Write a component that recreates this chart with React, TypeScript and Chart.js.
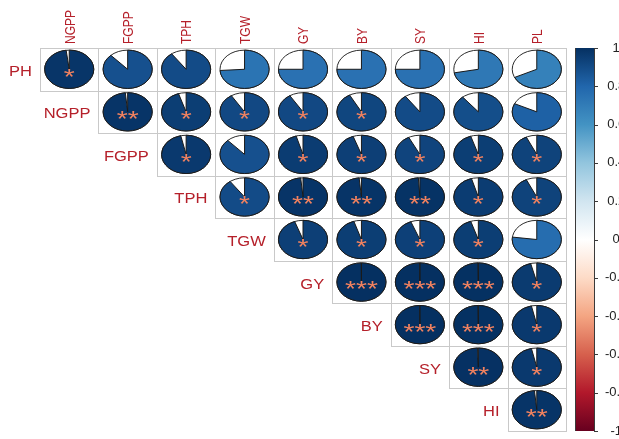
import React, { useEffect, useRef } from 'react';
import { Chart, registerables } from 'chart.js';
Chart.register(...registerables);

const rowLabels = ['PH', 'NGPP', 'FGPP', 'TPH', 'TGW', 'GY', 'BY', 'SY', 'HI'];
const colLabels = ['NGPP', 'FGPP', 'TPH', 'TGW', 'GY', 'BY', 'SY', 'HI', 'PL'];

// correlation of each row variable with columns (starting at the diagonal column)
const corrPH = [0.98, 0.88, 0.9, 0.74, 0.75, 0.75, 0.75, 0.72, 0.68];
const corrNGPP = [0.985, 0.95, 0.91, 0.91, 0.92, 0.9, 0.89, 0.82];
const corrFGPP = [0.965, 0.88, 0.955, 0.945, 0.925, 0.95, 0.93];
const corrTPH = [0.9, 0.985, 0.985, 0.99, 0.955, 0.93];
const corrTGW = [0.945, 0.95, 0.94, 0.95, 0.77];
const corrGY = [0.999, 0.999, 0.998, 0.96];
const corrBY = [0.999, 0.998, 0.965];
const corrSY = [0.995, 0.965];
const corrHI = [0.985];

// significance stars
const starsPH = [1, 0, 0, 0, 0, 0, 0, 0, 0];
const starsNGPP = [2, 1, 1, 1, 1, 0, 0, 0];
const starsFGPP = [1, 0, 1, 1, 1, 1, 1];
const starsTPH = [1, 2, 2, 2, 1, 1];
const starsTGW = [1, 1, 1, 1, 0];
const starsGY = [3, 3, 3, 1];
const starsBY = [3, 3, 1];
const starsSY = [2, 1];
const starsHI = [2];

const cbTicks = [1, 0.8, 0.6, 0.4, 0.2, 0, -0.2, -0.4, -0.6, -0.8, -1];
const cbTickLabels = ['1', '0.8', '0.6', '0.4', '0.2', '0', '-0.2', '-0.4', '-0.6', '-0.8', '-1'];

const palette = ['#67001F', '#B2182B', '#D6604D', '#F4A582', '#FDDBC7', '#FFFFFF', '#D1E5F0', '#92C5DE', '#4393C3', '#2166AC', '#053061'];

const corrRows = [corrPH, corrNGPP, corrFGPP, corrTPH, corrTGW, corrGY, corrBY, corrSY, corrHI];
const starRows = [starsPH, starsNGPP, starsFGPP, starsTPH, starsTGW, starsGY, starsBY, starsSY, starsHI];

const FONT = '"Liberation Sans", Arial, sans-serif';
const LABEL_COL = '#B5202A';

function hexToRgb(h: string) {
  return [parseInt(h.slice(1, 3), 16), parseInt(h.slice(3, 5), 16), parseInt(h.slice(5, 7), 16)];
}
function colorFor(r: number) {
  const t = Math.max(0, Math.min(1, (r + 1) / 2)) * (palette.length - 1);
  const i = Math.min(palette.length - 2, Math.floor(t));
  const f = t - i;
  const a = hexToRgb(palette[i]);
  const b = hexToRgb(palette[i + 1]);
  const c = a.map((v, k) => Math.round(v + (b[k] - v) * f));
  return `rgb(${c[0]},${c[1]},${c[2]})`;
}

type Pt = { x: number; y: number; r: number; s: number };
const points: Pt[] = [];
corrRows.forEach((row, i) => {
  row.forEach((r, k) => {
    points.push({ x: i + k + 0.5, y: i + 0.5, r, s: starRows[i][k] });
  });
});

const corrPlugin = {
  id: 'corrPie',
  afterDatasetsDraw(chart: any) {
    const ctx = chart.ctx as CanvasRenderingContext2D;
    const xs = chart.scales.x;
    const ys = chart.scales.y;
    const cb = chart.scales.cb;
    const cw = xs.getPixelForValue(1) - xs.getPixelForValue(0);
    const ch = ys.getPixelForValue(1) - ys.getPixelForValue(0);
    const meta = chart.getDatasetMeta(0);
    ctx.save();
    // cell borders
    ctx.strokeStyle = '#C9C9C9';
    ctx.lineWidth = 1;
    meta.data.forEach((el: any) => {
      const x0 = Math.round(el.x - cw / 2) + 0.5;
      const y0 = Math.round(el.y - ch / 2) + 0.5;
      const x1 = Math.round(el.x + cw / 2) + 0.5;
      const y1 = Math.round(el.y + ch / 2) + 0.5;
      ctx.strokeRect(x0, y0, x1 - x0, y1 - y0);
    });
    // pies
    const rx = cw * 0.42;
    const ry = ch * 0.45;
    meta.data.forEach((el: any, k: number) => {
      const p = points[k];
      const cx = el.x;
      const cy = el.y;
      ctx.beginPath();
      ctx.ellipse(cx, cy, rx, ry, 0, 0, Math.PI * 2);
      ctx.fillStyle = '#FFFFFF';
      ctx.fill();
      ctx.strokeStyle = '#2a2a2a';
      ctx.lineWidth = 1;
      ctx.stroke();
      const a0 = -Math.PI / 2;
      const a1 = a0 + Math.PI * 2 * Math.abs(p.r);
      ctx.beginPath();
      ctx.moveTo(cx, cy);
      if (p.r >= 0) ctx.ellipse(cx, cy, rx, ry, 0, a0, a1, false);
      else ctx.ellipse(cx, cy, rx, ry, 0, a0, a0 - (a1 - a0), true);
      ctx.closePath();
      ctx.fillStyle = colorFor(p.r);
      ctx.fill();
      ctx.strokeStyle = '#1a1a1a';
      ctx.stroke();
      if (p.s > 0) {
        const fs = 22.5;
        ctx.save();
        ctx.translate(cx, cy + 1.5);
        ctx.scale(1.25, 1);
        ctx.font = `${fs}px ${FONT}`;
        ctx.fillStyle = '#F2825F';
        ctx.textAlign = 'center';
        ctx.textBaseline = 'alphabetic';
        ctx.fillText('*'.repeat(p.s), 0, 0.575 * fs);
        ctx.restore();
      }
    });
    // row labels
    rowLabels.forEach((lab, i) => {
      const fs = 14;
      const xr = xs.getPixelForValue(i) - 8;
      const cy = ys.getPixelForValue(i + 0.5) + 1.5;
      ctx.save();
      ctx.translate(xr, cy);
      ctx.scale(1.18, 1);
      ctx.font = `${fs}px ${FONT}`;
      ctx.fillStyle = LABEL_COL;
      ctx.textAlign = 'right';
      ctx.textBaseline = 'alphabetic';
      ctx.fillText(lab, 0, 0.358 * fs);
      ctx.restore();
    });
    // column labels
    colLabels.forEach((lab, j) => {
      const fs = 12;
      const hs = 1.25;
      const cx = xs.getPixelForValue(j + 0.5);
      const yb = ys.getPixelForValue(0) - 4;
      ctx.save();
      ctx.translate(cx + (0.716 * fs * hs) / 2, yb);
      ctx.scale(hs, 1);
      ctx.rotate(-Math.PI / 2);
      ctx.font = `${fs}px ${FONT}`;
      ctx.fillStyle = LABEL_COL;
      ctx.textAlign = 'left';
      ctx.textBaseline = 'alphabetic';
      ctx.fillText(lab, 0, 0);
      ctx.restore();
    });
    // colour bar
    const bx = cb.left + 9;
    const bw = 19;
    const yTop = cb.getPixelForValue(1);
    const yBot = cb.getPixelForValue(-1);
    const g = ctx.createLinearGradient(0, yBot, 0, yTop);
    palette.forEach((c, i) => g.addColorStop(i / (palette.length - 1), c));
    ctx.fillStyle = g;
    ctx.fillRect(bx, yTop, bw, yBot - yTop);
    ctx.strokeStyle = '#3a3a3a';
    ctx.lineWidth = 1;
    ctx.beginPath();
    ctx.moveTo(bx + 0.5, yTop);
    ctx.lineTo(bx + 0.5, yBot);
    ctx.moveTo(bx + bw + 0.5, yTop);
    ctx.lineTo(bx + bw + 0.5, yBot);
    ctx.stroke();
    ctx.beginPath();
    cbTicks.forEach((v) => {
      const y = Math.round(cb.getPixelForValue(v)) + 0.5;
      ctx.moveTo(bx + bw, y);
      ctx.lineTo(bx + bw + 4, y);
    });
    ctx.stroke();
    ctx.restore();
  },
};

export default function App() {
  const ref = useRef<HTMLCanvasElement | null>(null);
  useEffect(() => {
    document.body.style.margin = '0';
    const canvas = ref.current!;
    const chart = new Chart(canvas, {
      type: 'scatter',
      data: {
        datasets: [
          {
            data: points.map((p) => ({ x: p.x, y: p.y })),
            pointRadius: 0,
            pointHoverRadius: 0,
          },
        ],
      },
      options: {
        animation: false,
        responsive: false,
        events: [],
        layout: { padding: { left: 40, top: 48, bottom: 8, right: 0 } },
        plugins: { legend: { display: false }, tooltip: { enabled: false } },
        scales: {
          x: { type: 'linear', min: 0, max: 9, display: false },
          y: { type: 'linear', min: 0, max: 9, reverse: true, display: false },
          cb: {
            type: 'linear',
            position: 'right',
            min: -1,
            max: 1,
            grid: { display: false, drawTicks: false },
            border: { display: false },
            afterBuildTicks: (scale: any) => {
              scale.ticks = cbTicks.map((v) => ({ value: v }));
            },
            afterFit: (scale: any) => {
              scale.width = 53;
              scale.paddingTop = 0;
              scale.paddingBottom = 0;
            },
            ticks: {
              crossAlign: 'center',
              padding: 39,
              color: '#222',
              font: { family: FONT, size: 13 },
              callback: (v: any) => {
                const idx = cbTicks.findIndex((t) => Math.abs(t - Number(v)) < 1e-6);
                return idx >= 0 ? cbTickLabels[idx] : '';
              },
            },
          },
        },
      },
      plugins: [corrPlugin],
    } as any);
    return () => chart.destroy();
  }, []);
  return (
    <div style={{ position: 'absolute', left: 0, top: 0, width: 619, height: 439 }}>
      <canvas ref={ref} width={619} height={439} style={{ display: 'block' }} />
    </div>
  );
}
